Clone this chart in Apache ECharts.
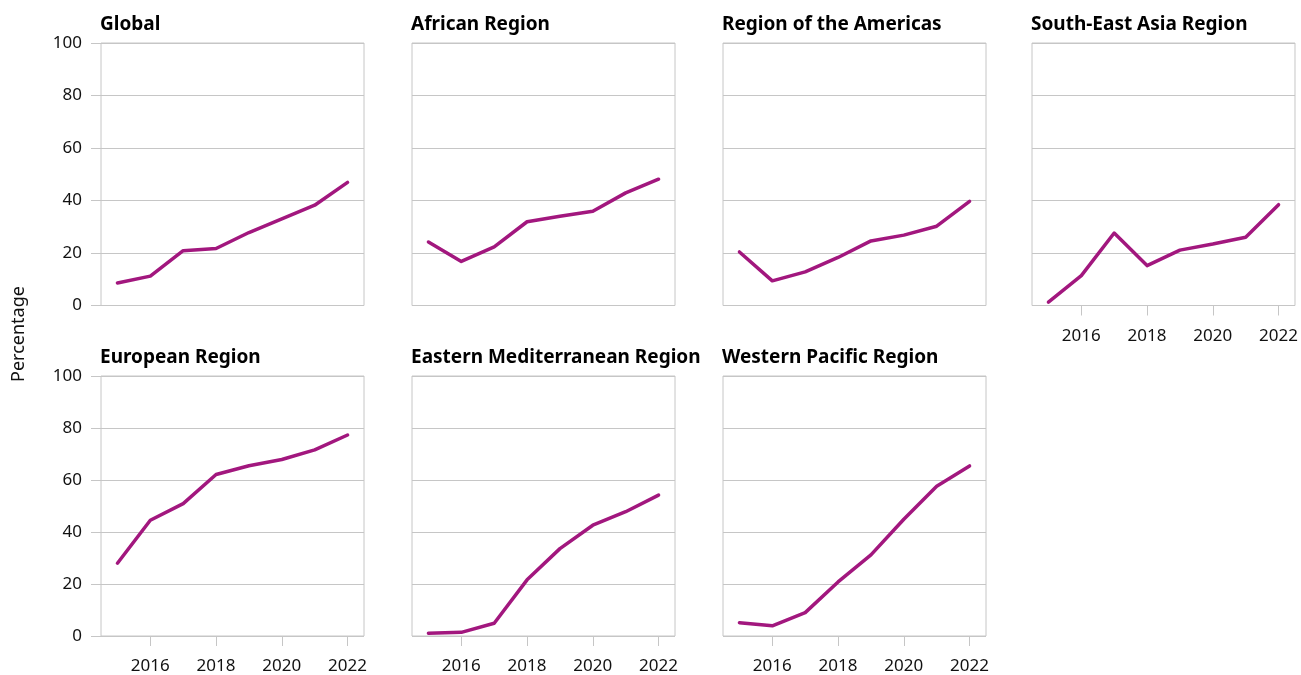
<!DOCTYPE html>
<html>
<head>
<meta charset="utf-8">
<title>Percentage by WHO region, 2015–2022</title>
<script src="https://cdn.jsdelivr.net/npm/echarts@6/dist/echarts.min.js"></script>
<style>
  html, body { margin: 0; padding: 0; background: #ffffff; }
  #chart { width: 1301px; height: 675px; }
</style>
</head>
<body>
<div id="chart"></div>
<script>
// Years on the horizontal axis
const years = [2015, 2016, 2017, 2018, 2019, 2020, 2021, 2022];

// Panel titles, in reading order
const regionNames = [
  'Global',
  'African Region',
  'Region of the Americas',
  'South-East Asia Region',
  'European Region',
  'Eastern Mediterranean Region',
  'Western Pacific Region'
];

// Percentage per year for each panel
const globalValues        = [8.6, 11.2, 20.9, 21.7, 27.8, 33.0, 38.2, 46.9];
const africanValues       = [24.2, 16.8, 22.3, 31.9, 34.0, 35.9, 42.9, 48.1];
const americasValues      = [20.4, 9.4, 12.8, 18.3, 24.6, 26.8, 30.2, 39.7];
const southEastAsiaValues = [1.3, 11.4, 27.6, 15.2, 21.1, 23.4, 26.0, 38.4];
const europeanValues      = [28.0, 44.5, 50.9, 62.1, 65.5, 67.9, 71.6, 77.3];
const eastMedValues       = [1.1, 1.4, 4.9, 21.6, 33.6, 42.6, 47.8, 54.2];
const westPacificValues   = [5.1, 3.9, 9.0, 20.8, 31.2, 44.9, 57.6, 65.4];

// Tick labels
const xTickYears = [2016, 2018, 2020, 2022];
const yTickValues = [0, 20, 40, 60, 80, 100];

const panelValues = [
  globalValues, africanValues, americasValues, southEastAsiaValues,
  europeanValues, eastMedValues, westPacificValues
];

// Panel geometry (px)
const colLefts = [101, 412, 723, 1032];
const rowTops = [43, 376];
const panelW = 263;
const panelH = 262.5;

const LINE_COLOR = '#a2177e';
const GRID_COLOR = '#c6c6c6';
const FONT = '"Noto Sans", "Open Sans", sans-serif';

const grids = [], xAxes = [], yAxes = [], series = [], titles = [];

regionNames.forEach((name, i) => {
  const row = Math.floor(i / 4);
  const col = i % 4;
  const left = colLefts[col];
  const top = rowTops[row];
  // y labels on the first column; x labels on panels with nothing below
  const showY = col === 0;
  const showX = row === 1 || col === 3;

  grids.push({
    left: left, top: top, width: panelW, height: panelH,
    show: true, borderColor: GRID_COLOR, borderWidth: 1,
    backgroundColor: 'transparent', containLabel: false
  });

  xAxes.push({
    type: 'value', gridIndex: i,
    min: 2014.5, max: 2022.5,
    axisLine: { show: false },
    splitLine: { show: false },
    axisTick: {
      show: showX, length: 10, inside: false,
      customValues: xTickYears,
      lineStyle: { color: GRID_COLOR, width: 1 }
    },
    axisLabel: {
      show: showX, customValues: xTickYears, margin: 22,
      color: '#111', fontSize: 17, fontFamily: FONT,
      formatter: v => String(v)
    }
  });

  yAxes.push({
    type: 'value', gridIndex: i,
    min: yTickValues[0], max: yTickValues[yTickValues.length - 1], interval: 20,
    axisLine: { show: false },
    splitLine: { show: true, lineStyle: { color: GRID_COLOR, width: 1 } },
    axisTick: { show: showY, length: 10, lineStyle: { color: GRID_COLOR, width: 1 } },
    axisLabel: {
      show: showY, margin: 19,
      color: '#111', fontSize: 17, fontFamily: FONT
    }
  });

  series.push({
    type: 'line', xAxisIndex: i, yAxisIndex: i,
    data: years.map((y, k) => [y, panelValues[i][k]]),
    showSymbol: false, symbol: 'none', silent: true, animation: false,
    lineStyle: { color: LINE_COLOR, width: 3.5, cap: 'round', join: 'round' }
  });

  titles.push({
    text: name, left: left - 1, top: top - 28, padding: 0,
    textStyle: { color: '#000', fontSize: 19, fontWeight: 'bold', fontFamily: FONT }
  });
});

const chart = echarts.init(document.getElementById('chart'), null, { renderer: 'canvas' });
chart.setOption({
  animation: false,
  backgroundColor: '#ffffff',
  title: titles,
  grid: grids,
  xAxis: xAxes,
  yAxis: yAxes,
  series: series,
  graphic: [{
    type: 'text',
    x: 19, y: 334,
    rotation: Math.PI / 2,
    style: {
      text: 'Percentage', fill: '#111',
      font: '18px ' + FONT,
      align: 'center', verticalAlign: 'middle'
    }
  }]
});
</script>
</body>
</html>
